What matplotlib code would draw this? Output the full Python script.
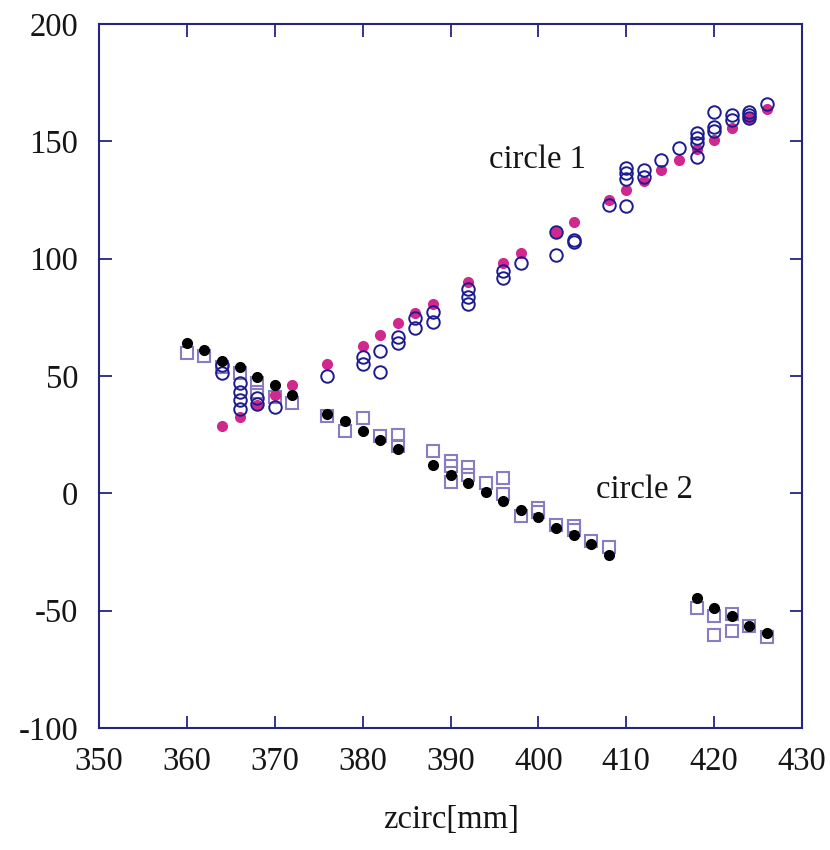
import matplotlib.pyplot as plt

# circle 1, method A (filled magenta)
c1_fill_x = [364, 366, 368, 370, 372, 376, 380, 382, 384, 386, 388, 392, 396, 398,
             402, 404, 408, 410, 412, 414, 416, 418, 420, 422, 424, 426]
c1_fill_y = [28.5, 32.5, 37.7, 42, 46, 55, 63, 67.5, 72.5, 76.8, 80.7, 90.2, 98.3, 102.6,
             111.5, 115.8, 125, 129.3, 133.2, 138, 142, 146.6, 150.6, 155.6, 159.8, 164]

# circle 1, method B (open navy circles)
c1_open_x = [364, 364, 366, 366, 366, 366, 368, 368, 370, 376, 380, 380, 382, 382,
             384, 384, 386, 386, 388, 388, 392, 392, 392, 396, 396, 398, 402, 402,
             404, 404, 408, 410, 410, 410, 410, 412, 412, 414, 416, 418, 418, 418, 418,
             420, 420, 420, 422, 422, 424, 424, 424, 426]
c1_open_y = [51.5, 54.5, 47, 43.4, 40, 36, 40.6, 38, 36.6, 50, 58, 55, 60.5, 51.7,
             66.6, 64.2, 74.6, 70.3, 77.4, 73.2, 87, 83.8, 80.6, 94.8, 91.6, 98, 111.5, 101.5,
             108, 107, 123, 138.5, 136.5, 134, 122.3, 138, 135, 142, 147, 153.4, 151.3, 149.2, 143.5,
             162.6, 156.3, 154.6, 161.2, 159, 162.6, 161.2, 159.8, 165.9]

# circle 2, method A (filled black)
c2_fill_x = [360, 362, 364, 366, 368, 370, 372, 376, 378, 380, 382, 384, 388, 390,
             392, 394, 396, 398, 400, 402, 404, 406, 408, 418, 420, 422, 424, 426]
c2_fill_y = [64, 61, 56.5, 53.8, 49.5, 46, 42, 33.8, 31, 26.5, 22.7, 19, 12, 7.7,
             4.3, 0.4, -3.3, -7.2, -10.2, -14.6, -17.9, -21.7, -26.4, -44.5, -49, -52.3, -56.5, -59.6]

# circle 2, method B (open lavender squares)
c2_open_x = [360, 362, 364, 366, 368, 368, 370, 372, 376, 378, 380, 382, 384, 384,
             388, 390, 390, 390, 392, 392, 394, 396, 396, 398, 400, 400, 402, 404, 404,
             406, 408, 418, 420, 420, 422, 422, 424, 426]
c2_open_y = [60, 58.5, 54, 51.3, 47, 43.4, 41, 38.5, 33, 26.6, 32.3, 24.4, 25, 20,
             18, 14, 11.6, 4.7, 11.4, 8, 4.3, 6.4, -0.4, -9.7, -6.4, -8, -13.6, -13.9, -15.6,
             -20.3, -23, -49, -52.2, -60.4, -51.5, -58.6, -56.5, -61]

x_ticks = [350, 360, 370, 380, 390, 400, 410, 420, 430]
y_ticks = [-100, -50, 0, 50, 100, 150, 200]

frame_col = "#25257f"
text_col = "#151515"
plt.rcParams["font.family"] = ["Liberation Serif", "DejaVu Serif"]
plt.rcParams["axes.unicode_minus"] = False

fig = plt.figure(figsize=(8.3, 8.5), dpi=100)
ax = fig.add_axes([0.1193, 0.1435, 0.8470, 0.8282])

ax.plot(c2_open_x, c2_open_y, "s", ms=8.5, mfc="none", mec="#8a7cc2", mew=1.5, ls="none")
ax.plot(c1_fill_x, c1_fill_y, "o", ms=7, mfc="#d0288c", mec="#d0288c", ls="none")
ax.plot(c1_open_x, c1_open_y, "o", ms=9, mfc="none", mec="#1c1c90", mew=1.4, ls="none")
ax.plot(c2_fill_x, c2_fill_y, "o", ms=7, mfc="black", mec="black", ls="none")

ax.text(399.9, 142, "circle 1", fontsize=23.5, ha="center", va="center", color=text_col)
ax.text(412.1, 1.5, "circle 2", fontsize=23.5, ha="center", va="center", color=text_col)

ax.set_xlim(350, 430)
ax.set_ylim(-100, 200)
ax.set_xticks(x_ticks)
ax.set_yticks(y_ticks)
ax.tick_params(direction="in", length=9, width=1.3, color=frame_col,
               top=True, right=True, labelsize=23.5, labelcolor=text_col)
ax.tick_params(axis="x", pad=13)
ax.tick_params(axis="y", pad=15)
for s in ax.spines.values():
    s.set_color(frame_col)
    s.set_linewidth(1.5)

ax.set_xlabel("zcirc[mm]", fontsize=23.5, labelpad=20, color=text_col)

fig.savefig("out.png", dpi=100)
